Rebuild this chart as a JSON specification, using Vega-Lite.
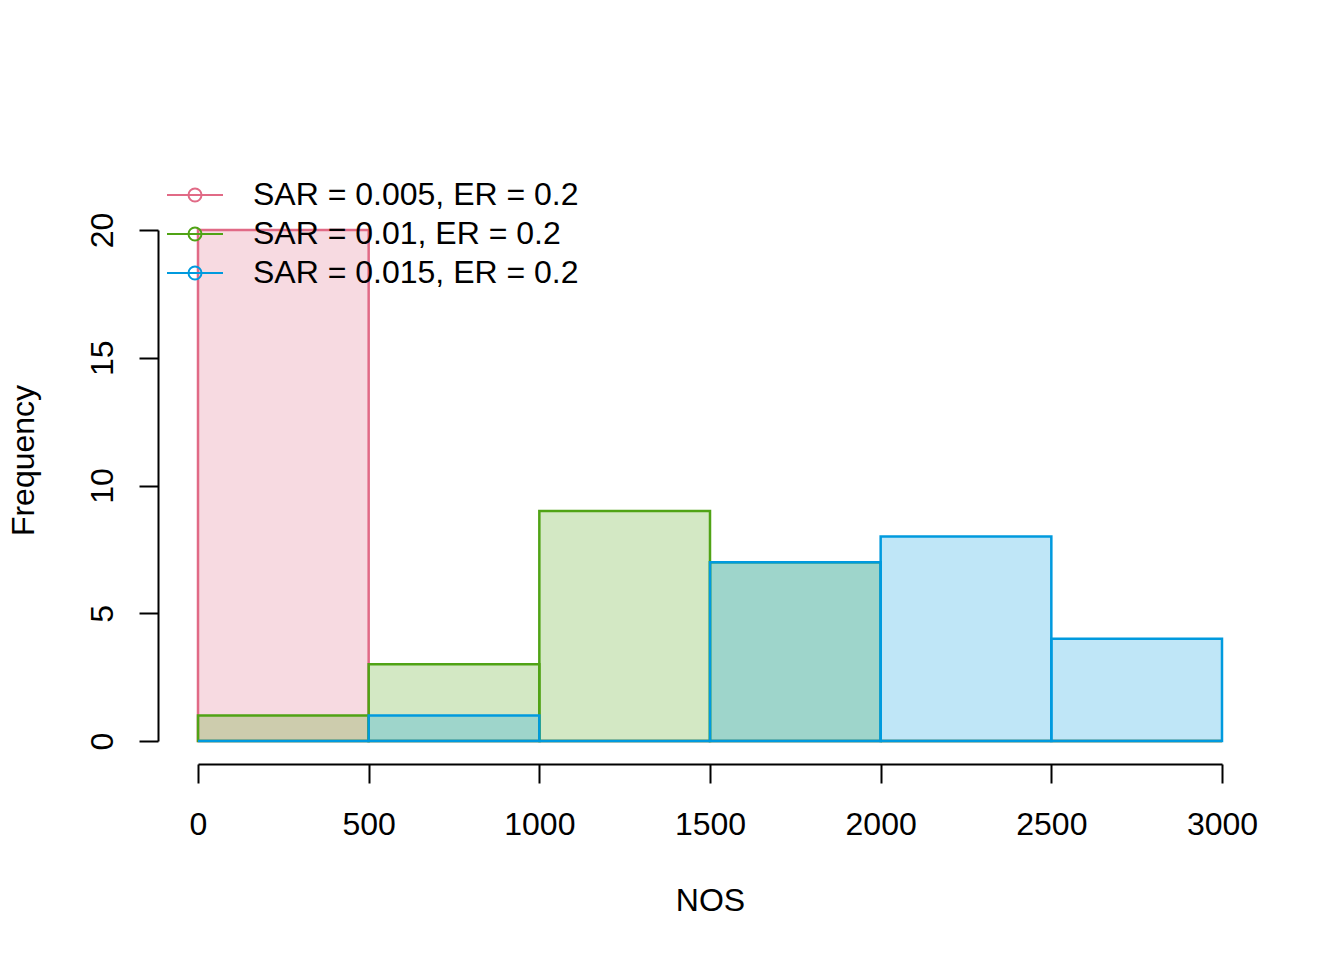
{
  "$schema": "https://vega.github.io/schema/vega-lite/v6.json",
  "width": 1024,
  "height": 511,
  "autosize": "none",
  "padding": {"left": 198, "top": 230, "right": 122, "bottom": 219},
  "background": "white",
  "config": {
    "view": {"stroke": null},
    "font": "Liberation Sans",
    "axis": {
      "grid": false,
      "domainColor": "black",
      "domainWidth": 2,
      "tickColor": "black",
      "tickWidth": 2,
      "tickSize": 19,
      "labelFont": "Liberation Sans",
      "labelFontSize": 32,
      "labelColor": "black",
      "labelFlush": false,
      "labelOverlap": false,
      "titleFont": "Liberation Sans",
      "titleFontSize": 32,
      "titleFontWeight": "normal",
      "titleColor": "black"
    },
    "legend": {
      "title": null,
      "orient": "none",
      "legendX": -19,
      "legendY": -51,
      "padding": 0,
      "symbolType": "M-2.8,0L2.8,0M0.65,0A0.65,0.65,0,1,1,-0.65,0A0.65,0.65,0,1,1,0.65,0",
      "symbolSize": 400,
      "symbolStrokeWidth": 2,
      "symbolFillColor": "transparent",
      "labelOffset": 42,
      "labelFont": "Liberation Sans",
      "labelFontSize": 32,
      "labelColor": "black",
      "labelLimit": 600,
      "rowPadding": 7
    }
  },
  "data": {
    "values": [
      {"series": "SAR = 0.005, ER = 0.2", "start": 0, "end": 500, "count": 20},
      {"series": "SAR = 0.005, ER = 0.2", "start": 500, "end": 1000, "count": 0},
      {"series": "SAR = 0.005, ER = 0.2", "start": 1000, "end": 1500, "count": 0},
      {"series": "SAR = 0.005, ER = 0.2", "start": 1500, "end": 2000, "count": 0},
      {"series": "SAR = 0.005, ER = 0.2", "start": 2000, "end": 2500, "count": 0},
      {"series": "SAR = 0.005, ER = 0.2", "start": 2500, "end": 3000, "count": 0},
      {"series": "SAR = 0.01, ER = 0.2", "start": 0, "end": 500, "count": 1},
      {"series": "SAR = 0.01, ER = 0.2", "start": 500, "end": 1000, "count": 3},
      {"series": "SAR = 0.01, ER = 0.2", "start": 1000, "end": 1500, "count": 9},
      {"series": "SAR = 0.01, ER = 0.2", "start": 1500, "end": 2000, "count": 7},
      {"series": "SAR = 0.01, ER = 0.2", "start": 2000, "end": 2500, "count": 0},
      {"series": "SAR = 0.01, ER = 0.2", "start": 2500, "end": 3000, "count": 0},
      {"series": "SAR = 0.015, ER = 0.2", "start": 0, "end": 500, "count": 0},
      {"series": "SAR = 0.015, ER = 0.2", "start": 500, "end": 1000, "count": 1},
      {"series": "SAR = 0.015, ER = 0.2", "start": 1000, "end": 1500, "count": 0},
      {"series": "SAR = 0.015, ER = 0.2", "start": 1500, "end": 2000, "count": 7},
      {"series": "SAR = 0.015, ER = 0.2", "start": 2000, "end": 2500, "count": 8},
      {"series": "SAR = 0.015, ER = 0.2", "start": 2500, "end": 3000, "count": 4}
    ]
  },
  "mark": {"type": "rect", "fillOpacity": 0.25, "strokeWidth": 2.5},
  "encoding": {
    "x": {
      "field": "start",
      "type": "quantitative",
      "scale": {"domain": [0, 3000], "nice": false, "zero": false},
      "axis": {
        "values": [0, 500, 1000, 1500, 2000, 2500, 3000],
        "format": "d",
        "offset": 23,
        "labelPadding": 26,
        "title": "NOS",
        "titleBaseline": "alphabetic",
        "titleY": 146
      }
    },
    "x2": {"field": "end"},
    "y": {
      "field": "count",
      "type": "quantitative",
      "scale": {"domain": [0, 20], "nice": false},
      "axis": {
        "values": [0, 5, 10, 15, 20],
        "offset": 40,
        "labelAngle": 270,
        "labelAlign": "center",
        "labelBaseline": "alphabetic",
        "labelPadding": 27,
        "title": "Frequency",
        "titleAngle": 270,
        "titleAlign": "center",
        "titleBaseline": "alphabetic",
        "titleX": -125,
        "titleY": 230
      }
    },
    "y2": {"datum": 0},
    "color": {
      "field": "series",
      "type": "nominal",
      "scale": {
        "domain": ["SAR = 0.005, ER = 0.2", "SAR = 0.01, ER = 0.2", "SAR = 0.015, ER = 0.2"],
        "range": ["#E16A86", "#50A315", "#009ADE"]
      },
      "legend": {
        "encode": {
          "symbols": {
            "update": {
              "fill": {"value": "transparent"},
              "fillOpacity": {"value": 0},
              "opacity": {"value": 1},
              "strokeWidth": {"value": 2}
            }
          }
        }
      }
    },
    "stroke": {
      "field": "series",
      "type": "nominal",
      "scale": {
        "domain": ["SAR = 0.005, ER = 0.2", "SAR = 0.01, ER = 0.2", "SAR = 0.015, ER = 0.2"],
        "range": ["#E16A86", "#50A315", "#009ADE"]
      },
      "legend": {
        "encode": {
          "symbols": {
            "update": {
              "fill": {"value": "transparent"},
              "fillOpacity": {"value": 0},
              "opacity": {"value": 1},
              "strokeWidth": {"value": 2}
            }
          }
        }
      }
    }
  }
}
